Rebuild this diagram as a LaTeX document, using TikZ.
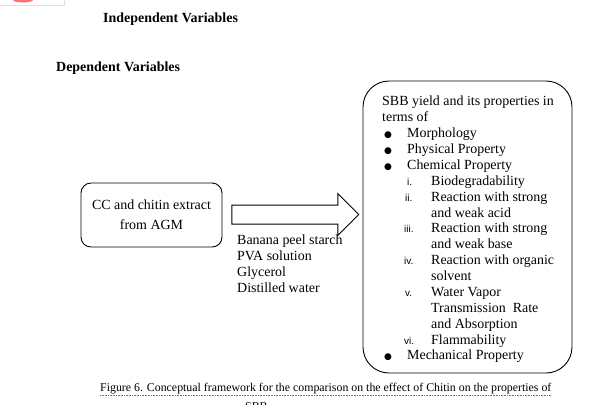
\documentclass[tikz,border=0pt]{standalone}
\usepackage{fontspec}
\setmainfont{Liberation Serif}
\newfontfamily\numfont{Liberation Sans}
\newfontfamily\symfont{DejaVu Sans}
\usetikzlibrary{shapes.arrows}
\definecolor{spellgreen}{HTML}{3C9A3C}

% list helpers for the properties box
\newcommand{\bul}[1]{\hspace*{2bp}\makebox[23bp][l]{\symfont\fontsize{9}{9}\selectfont ●}#1}
\newcommand{\rnum}[2]{\hspace*{22bp}\makebox[27bp][l]{\numfont\fontsize{10}{10}\selectfont #1}#2}
\newcommand{\cont}[1]{\hspace*{49bp}#1}

\begin{document}
\begin{tikzpicture}[x=1bp, y=-1bp,
  every node/.style={font=\fontsize{14}{15.94}\selectfont, inner sep=0pt},
  heading/.style={font=\fontsize{14}{16}\selectfont\bfseries, anchor=base west},
  box/.style={draw, line width=0.9bp},
  blockarr/.style={single arrow, draw, line width=1bp, inner sep=9bp,
    minimum height=127bp, single arrow head extend=11.5bp}
]
\useasboundingbox (0,0) rectangle (593,404);
\clip (0,0) rectangle (593,404);

% cropped fragment at the top left
\draw[gray!25] (0,5) -- (64,5) -- (64,0);
\fill[red!55] (23,0) ellipse (10 and 2.5);

\node[heading] (indep) at (103,22) {Independent Variables};
\node[heading] (dep) at (56,71) {Dependent Variables};

\node[box, rounded corners=10bp, minimum width=141bp, minimum height=64bp,
  align=center] (cc) at (151.5,215) {CC and chitin extract\\[4bp]from AGM};

\node[blockarr] (arr) at (290.5,214.5) {};

\node[anchor=north west, align=left] (mix) at (237,235)
  {Banana peel starch\\PVA solution\\Glycerol\\Distilled water};

\node[box, rounded corners=26bp, minimum width=209bp, minimum height=292bp]
  (sbb) at (467.5,227) {};
\node[anchor=north west, align=left] (props) at (382,96)
  {SBB yield and its properties in\\
   terms of\\
   \bul{Morphology}\\
   \bul{Physical Property}\\
   \bul{Chemical Property}\\
   \rnum{\hspace*{3bp}i.}{Biodegradability}\\
   \rnum{\hspace*{1bp}ii.}{Reaction with strong}\\
   \cont{and weak acid}\\
   \rnum{iii.}{Reaction with strong}\\
   \cont{and weak base}\\
   \rnum{iv.}{Reaction with organic}\\
   \cont{solvent}\\
   \rnum{\hspace*{1bp}v.}{Water Vapor}\\
   \cont{Transmission\ \ Rate}\\
   \cont{and Absorption}\\
   \rnum{vi.}{Flammability}\\
   \bul{Mechanical Property}};

\node[anchor=base west, font=\fontsize{11.9}{13}\selectfont] (cap) at (100,391)
  {Figure 6. Conceptual framework for the comparison on the effect of Chitin on the properties of};
\node[anchor=base west, font=\fontsize{11.9}{13}\selectfont] (cap2) at (245,410) {SBB};
\draw[spellgreen, densely dotted, line width=0.6bp]
  ([yshift=-1.5bp]cap.south west) -- ([yshift=-1.5bp]cap.south east);
\end{tikzpicture}
\end{document}
